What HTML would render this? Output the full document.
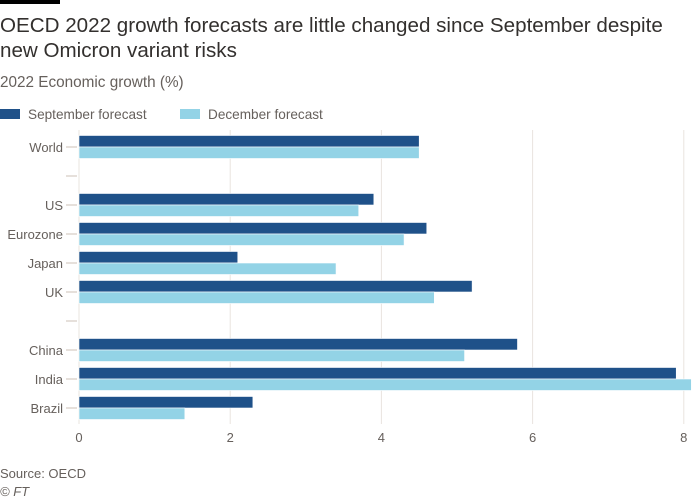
<!DOCTYPE html>
<html><head><meta charset="utf-8"><style>
body{margin:0;background:#fff;width:700px;height:500px;overflow:hidden;font-family:"Liberation Sans",sans-serif;color:#33302e}
</style></head><body>
<svg width="700" height="500" style="position:absolute;left:0;top:0">
<rect x="0" y="0" width="60" height="4" fill="#000"/>
<text x="0" y="32" font-size="20.6" fill="#33302e">OECD 2022 growth forecasts are little changed since September despite</text>
<text x="0" y="57" font-size="20.6" fill="#33302e">new Omicron variant risks</text>
<text x="0" y="87" font-size="15.3" fill="#66605c">2022 Economic growth (%)</text>
<g>
<rect x="0" y="109" width="20" height="10" fill="#1f5189"/>
<text x="28" y="119" font-size="13.6" fill="#66605c">September forecast</text>
<rect x="180" y="109" width="20" height="10" fill="#93d3e6"/>
<text x="208" y="119" font-size="13.6" fill="#66605c">December forecast</text>
</g>
<g id="plot"></g>
<text x="0" y="478" font-size="13" fill="#66605c">Source: OECD</text>
<text x="0" y="496" font-size="13" font-style="italic" fill="#66605c">© FT</text>
</svg>
<script>
const categories=["World","","US","Eurozone","Japan","UK","","China","India","Brazil"];
const september=[4.5,null,3.9,4.6,2.1,5.2,null,5.8,7.9,2.3];
const december=[4.5,null,3.7,4.3,3.4,4.7,null,5.1,8.1,1.4];
const xTicks=[0,2,4,6,8];
const x0=79,pxPerUnit=75.6,yTop=147,band=29,barH=11.5;
const X=v=>x0+v*pxPerUnit;
const Y=i=>yTop+i*band;
const ns="http://www.w3.org/2000/svg";
const g=document.getElementById('plot');
function mk(t,a){const e=document.createElementNS(ns,t);for(const k in a)e.setAttribute(k,a[k]);g.appendChild(e);return e;}
xTicks.forEach(t=>{
 const l=mk('line',{x1:X(t),x2:X(t),y1:130,y2:424,stroke:'#e9e4df','stroke-width':1});
 
 
 const tx=mk('text',{x:X(t),y:442,'font-size':13,fill:'#66605c','text-anchor':'middle'});
 tx.textContent=t;
 
 
});
categories.forEach((c,i)=>{
 const y=Y(i);
 const tk=mk('line',{x1:66,x2:77,y1:y,y2:y,stroke:'#ccc1b7','stroke-width':1});
 
 
 if(c){
  const t=mk('text',{x:63,y:y+5,'font-size':13,fill:'#66605c','text-anchor':'end'});
  t.textContent=c;
  
  
 }
 if(september[i]!=null){
  const b=mk('rect',{x:X(0),y:y-barH,width:X(september[i])-X(0),height:barH,fill:'#1f5189',stroke:'#fff','stroke-width':0.6});
  
  
 }
 if(december[i]!=null){
  const b=mk('rect',{x:X(0),y:y,width:X(december[i])-X(0),height:barH,fill:'#93d3e6',stroke:'#fff','stroke-width':0.6});
  
  
 }
});
</script>
</body></html>
